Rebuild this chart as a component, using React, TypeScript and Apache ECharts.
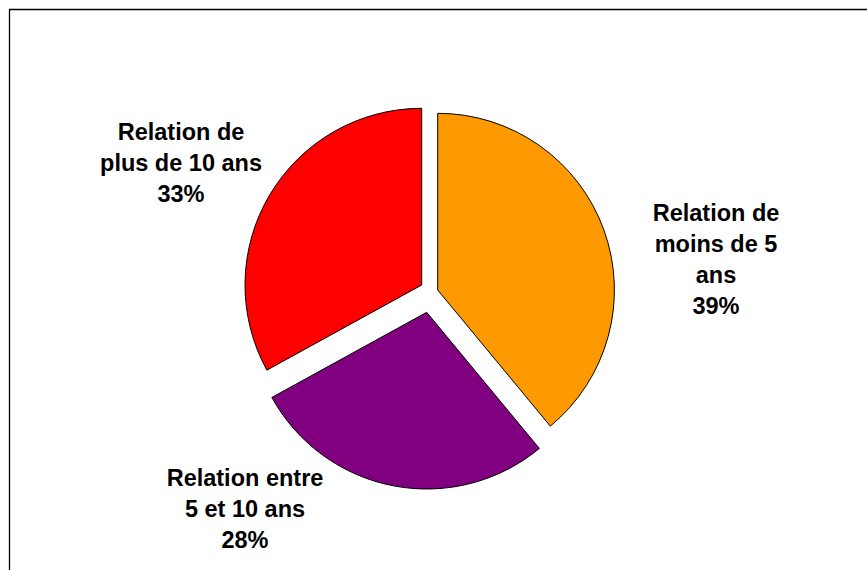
import React, { useEffect, useRef } from "react";
import * as echarts from "echarts";

// Data (clockwise from 12 o'clock)
const categories = [
  "Relation de\nmoins de 5\nans",
  "Relation entre\n5 et 10 ans",
  "Relation de\nplus de 10 ans",
];
const values = [39, 28, 33];
const colors = ["#FF9900", "#800080", "#FF0000"];

// Layout (per exploded slice: slice centre and label anchor)
const sliceCenters: [number, number][] = [
  [437.7, 290],
  [426.7, 312.3],
  [421.7, 285],
];
const labelAnchors: [number, number][] = [
  [716, 259],
  [245, 509],
  [181, 163],
];
const RADIUS = 176.7;

export default function App() {
  const ref = useRef<HTMLDivElement>(null);
  useEffect(() => {
    if (!ref.current) return;
    const chart = echarts.init(ref.current, undefined, { renderer: "svg" });
    const series = categories.map((_, k) => ({
      type: "pie",
      center: sliceCenters[k],
      radius: RADIUS,
      startAngle: 90,
      clockwise: true,
      silent: true,
      avoidLabelOverlap: false,
      labelLine: { show: false },
      emphasis: { disabled: true },
      labelLayout: () => ({
        x: labelAnchors[k][0],
        y: labelAnchors[k][1],
        align: "center",
        verticalAlign: "middle",
      }),
      data: categories.map((name, i) => ({
        name,
        value: values[i],
        itemStyle:
          i === k
            ? { color: colors[i], borderColor: "#000", borderWidth: 1 }
            : { color: "rgba(0,0,0,0)", borderWidth: 0 },
        label:
          i === k
            ? {
                show: true,
                position: "outside",
                formatter: "{b}\n{d}%",
                fontFamily: "'Liberation Sans', Arial, sans-serif",
                fontWeight: "bold",
                fontSize: 23.5,
                lineHeight: 31,
                color: "#000",
                align: "center",
              }
            : { show: false },
      })),
    }));
    chart.setOption({
      animation: false,
      backgroundColor: "#fff",
      graphic: [
        {
          type: "polyline",
          shape: { points: [[9.5, 600], [9.5, 9.5], [880, 9.5]] },
          style: { stroke: "#000", lineWidth: 1.3, fill: "none" },
          silent: true,
        },
      ],
      series,
    });
    return () => chart.dispose();
  }, []);
  return (
    <div
      ref={ref}
      style={{ position: "absolute", left: 0, top: 0, width: 867, height: 570 }}
    />
  );
}
